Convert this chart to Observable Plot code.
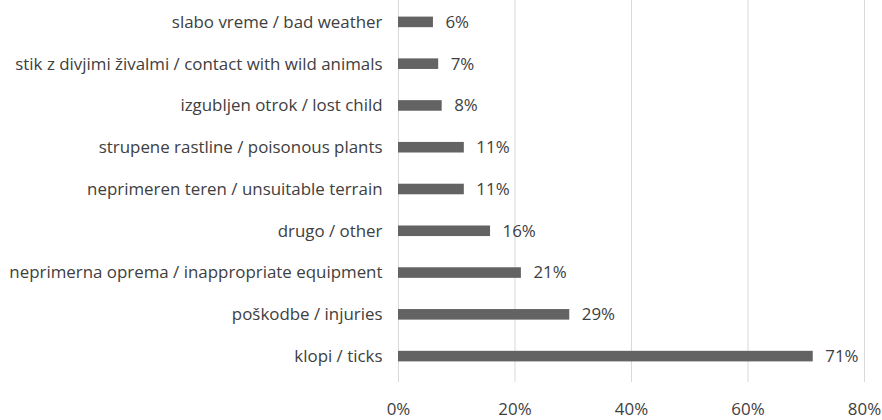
<!DOCTYPE html>
<html>
<head>
<meta charset="utf-8">
<script src="https://cdn.jsdelivr.net/npm/d3@7"></script>
<script src="https://cdn.jsdelivr.net/npm/@observablehq/plot@0.6"></script>
<style>
  html, body { margin: 0; padding: 0; background: #fff; }
  #chart svg { display: block; }
</style>
</head>
<body>
<div id="chart"></div>
<script>
const categories = [
  "slabo vreme / bad weather",
  "stik z divjimi živalmi / contact with wild animals",
  "izgubljen otrok / lost child",
  "strupene rastline / poisonous plants",
  "neprimeren teren / unsuitable terrain",
  "drugo / other",
  "neprimerna oprema / inappropriate equipment",
  "poškodbe / injuries",
  "klopi / ticks"
];
const values = [6.0, 6.9, 7.5, 11.3, 11.3, 15.8, 21.1, 29.4, 71.2];
const valueLabels = ["6%", "7%", "8%", "11%", "11%", "16%", "21%", "29%", "71%"];
const xTicks = [0, 20, 40, 60, 80];

const data = categories.map((c, i) => ({category: c, value: values[i], label: valueLabels[i]}));

const font = "'Open Sans', Lato, sans-serif";
const fs = 16.9;
const chart = Plot.plot({
  width: 882,
  height: 420,
  marginLeft: 398,
  marginRight: 18,
  marginTop: 0,
  marginBottom: 38,
  style: {fontFamily: font, fontSize: fs + "px", color: "#404040", background: "#fff"},
  x: {domain: [0, 80], ticks: xTicks, tickFormat: d => d + "%", label: null},
  y: {domain: categories, range: [1, 377], padding: 0, round: false, label: null},
  marks: [
    Plot.gridX(xTicks, {stroke: "#d9d9d9", strokeOpacity: 1, strokeWidth: 1}),
    Plot.barX(data, {x: "value", y: "category", fill: "#636363", insetTop: 15.6, insetBottom: 15.6}),
    Plot.text(data, {x: "value", y: "category", text: "label", textAnchor: "start", dx: 12, fill: "#404040", fontSize: fs}),
    Plot.axisX({ticks: xTicks, tickFormat: d => d + "%", tickSize: 0, tickPadding: 20, fontSize: fs, label: null}),
    Plot.axisY({tickSize: 0, tickPadding: 16, fontSize: fs, label: null})
  ]
});
document.getElementById("chart").appendChild(chart);
</script>
</body>
</html>
